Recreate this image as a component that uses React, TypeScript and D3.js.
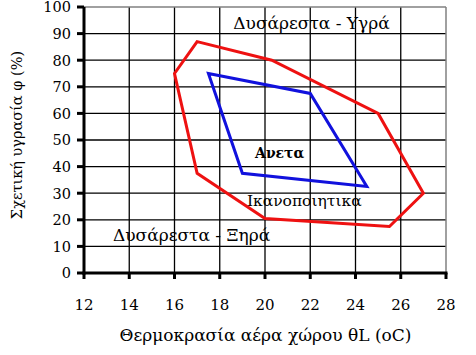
import React from "react";
import * as d3 from "d3";

const redX = [17, 16, 17, 20, 25.5, 27, 25, 20.3];
const redY = [87, 75, 37.5, 20.5, 17.5, 30, 60, 80];
const blueX = [17.5, 22, 24.5, 19];
const blueY = [75, 67.5, 32.5, 37.5];
const xTicks = [12, 14, 16, 18, 20, 22, 24, 26, 28];
const yTicks = [0, 10, 20, 30, 40, 50, 60, 70, 80, 90, 100];
const labelTexts = ["Δυσάρεστα - Υγρά", "Ανετα", "Ικανοποιητικα", "Δυσάρεστα - Ξηρά"];
const labelX = [18.6, 19.56, 19.2, 13.28];
const labelY = [91.7, 43.2, 25.2, 12];

const labelStyle = [
  { size: 17, bold: false },
  { size: 14, bold: true },
  { size: 15.5, bold: false },
  { size: 17, bold: false },
];

const W = 476, H = 355;
const L = 84, R = 446, T = 7, B = 273;
const FONT = "DejaVu Serif";

export default function App() {
  const x = d3.scaleLinear().domain([12, 28]).range([L, R]);
  const y = d3.scaleLinear().domain([0, 100]).range([B, T]);
  const line = d3.line<[number, number]>().x(d => x(d[0])).y(d => y(d[1])).curve(d3.curveLinearClosed);
  const red = redX.map((v, i) => [v, redY[i]] as [number, number]);
  const blue = blueX.map((v, i) => [v, blueY[i]] as [number, number]);
  const ts = { fontFamily: FONT };
  return (
    <svg width={W} height={H} style={{ position: "absolute", left: 0, top: 0, background: "#fff", fontFamily: FONT }}>
      {xTicks.slice(1, -1).map(t => (
        <line key={"gx" + t} x1={x(t)} x2={x(t)} y1={T} y2={B} stroke="#000" strokeWidth={1.3} />
      ))}
      {yTicks.slice(1, -1).map(t => (
        <line key={"gy" + t} x1={L} x2={R} y1={y(t)} y2={y(t)} stroke="#000" strokeWidth={1.3} />
      ))}
      <line x1={L} x2={R} y1={y(100)} y2={y(100)} stroke="#808080" strokeWidth={1.5} />
      <line x1={R} x2={R} y1={T} y2={B} stroke="#808080" strokeWidth={1.5} />
      <path d={line(red) || ""} fill="none" stroke="#ee1111" strokeWidth={3} strokeLinejoin="miter" />
      <path d={line(blue) || ""} fill="none" stroke="#1111dd" strokeWidth={3} strokeLinejoin="miter" />
      <line x1={L} x2={L} y1={T} y2={B + 1.5} stroke="#000" strokeWidth={3} />
      <line x1={L - 1.5} x2={R + 1.5} y1={B} y2={B} stroke="#000" strokeWidth={3} />
      {yTicks.map(t => (
        <g key={"ty" + t}>
          <line x1={L - 7} x2={L} y1={y(t)} y2={y(t)} stroke="#000" strokeWidth={3} />
          <text style={ts} x={L - 13} y={y(t) + 5.3} textAnchor="end" fontSize={14.5}>{t}</text>
        </g>
      ))}
      {xTicks.map(t => (
        <g key={"tx" + t}>
          <line x1={x(t)} x2={x(t)} y1={B} y2={B + 6} stroke="#000" strokeWidth={3} />
          <text style={ts} x={x(t)} y={310} textAnchor="middle" fontSize={15}>{t}</text>
        </g>
      ))}
      {labelTexts.map((t, i) => (
        <text style={ts} key={t} x={x(labelX[i])} y={y(labelY[i])} fontSize={labelStyle[i].size}
          fontWeight={labelStyle[i].bold ? "bold" : "normal"}>{t}</text>
      ))}
      <text style={ts} x={265.5} y={341} textAnchor="middle" fontSize={17}>Θερμοκρασία αέρα χώρου θL (oC)</text>
      <text style={ts} transform={`translate(22,135) rotate(-90)`} textAnchor="middle" fontSize={14.5}>Σχετική υγρασία φ (%)</text>
    </svg>
  );
}
